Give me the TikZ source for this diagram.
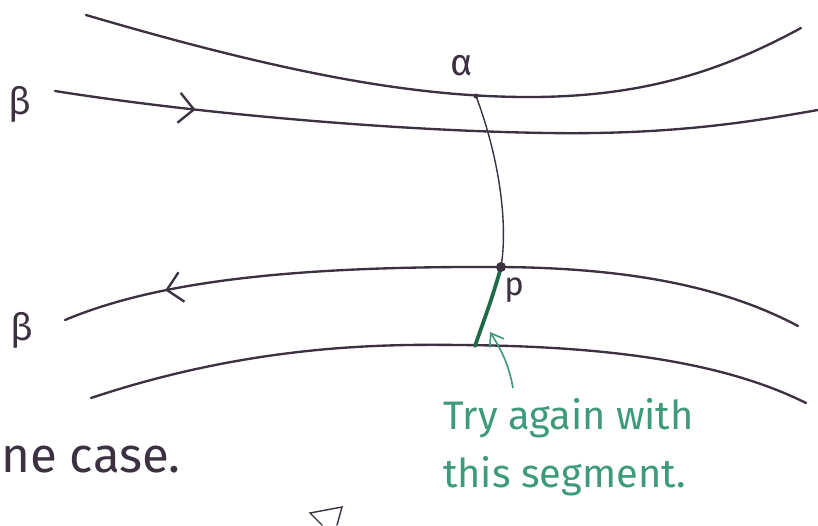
\documentclass[tikz,border=0pt]{standalone}
\usepackage{fontspec}
\setmainfont{Fira Sans}
\usetikzlibrary{
    arrows.meta,
    decorations.markings
}
\definecolor{pen}{HTML}{3B3140}
\definecolor{greenpen}{HTML}{3E9A78}
\definecolor{greenseg}{HTML}{1F6B48}

\begin{document}
\begin{tikzpicture}[
        x={(0.03cm,0)}, y={(0,-0.03cm)},
        curve/.style={draw=pen,line width=2pt,line cap=round},
        thin curve/.style={draw=pen,line width=1.2pt,line cap=round},
        midarrow/.style={
            postaction={decorate},
            decoration={markings,
                mark=at position #1 with {\arrow{Straight Barb[length=4.5mm,width=9mm,line width=2pt]}}}
        },
        segment/.style={draw=greenseg,line width=3.2pt,line cap=round},
        pointer/.style={draw=greenpen,line width=1.4pt,-{Straight Barb[length=3.5mm,width=5mm]}},
        label/.style={text=pen,font=\fontsize{32}{36}\selectfont,inner sep=0pt},
        note/.style={text=greenpen,font=\fontsize{34}{50}\selectfont,align=left,inner sep=0pt}
    ]
        \clip (0,0) rectangle (818,525);
        \fill[white] (0,0) rectangle (818,525);

        % points on the arcs
        \coordinate (A) at (476,96);
        \coordinate (P) at (501,267);
        \coordinate (B) at (475,346);
        \coordinate (tail) at (513,388);
        \coordinate (tip) at (490,332);

        % the two alpha curves
        \draw[curve] (86,15) .. controls (300,78) and (420,96) .. (522,97)
            .. controls (640,98) and (720,72) .. (801,28);
        \draw[curve] (91,398) .. controls (250,345) and (380,344) .. (459,345)
            .. controls (600,346) and (720,360) .. (806,403);

        % the two beta curves
        \draw[curve,midarrow=0.185] (55,91) .. controls (200,114) and (400,131) .. (548,133)
            .. controls (680,135) and (760,120) .. (818,110);
        \draw[curve,midarrow=0.86] (798,326) .. controls (730,290) and (640,268) .. (P)
            .. controls (300,266) and (160,280) .. (65,320);

        % arc from alpha to p, and on to the lower curve
        \draw[thin curve] (A) .. controls (500,160) and (508,225) .. (P);
        \draw[thin curve] (P) .. controls (492,300) and (482,325) .. (B);
        \draw[segment] (P) .. controls (492,300) and (482,325) .. (B);
        \fill[pen] (P) circle (5);
        \fill[pen] (A) circle (2.5);

        \node[label] (alpha) at (462,66) {α};
        \node[label] (betatop) at (20,104) {β};
        \node[label] (betabot) at (22,330) {β};
        \node[label,font=\fontsize{28}{32}\selectfont] (p) at (514,290) {p};

        \node[note,anchor=north west] (tryagain) at (443,398) {Try again with\\this segment.};
        \draw[pointer] (tail) .. controls (508,360) and (498,345) .. (tip);

        \node[label,anchor=base west,font=\fontsize{42}{46}\selectfont] (case) at (1,472) {ne case.};

        % fragment at the bottom edge
        \draw[thin curve] (322,525) -- (310,513) -- (342,507) -- (337,525);
    \end{tikzpicture}
\end{document}
